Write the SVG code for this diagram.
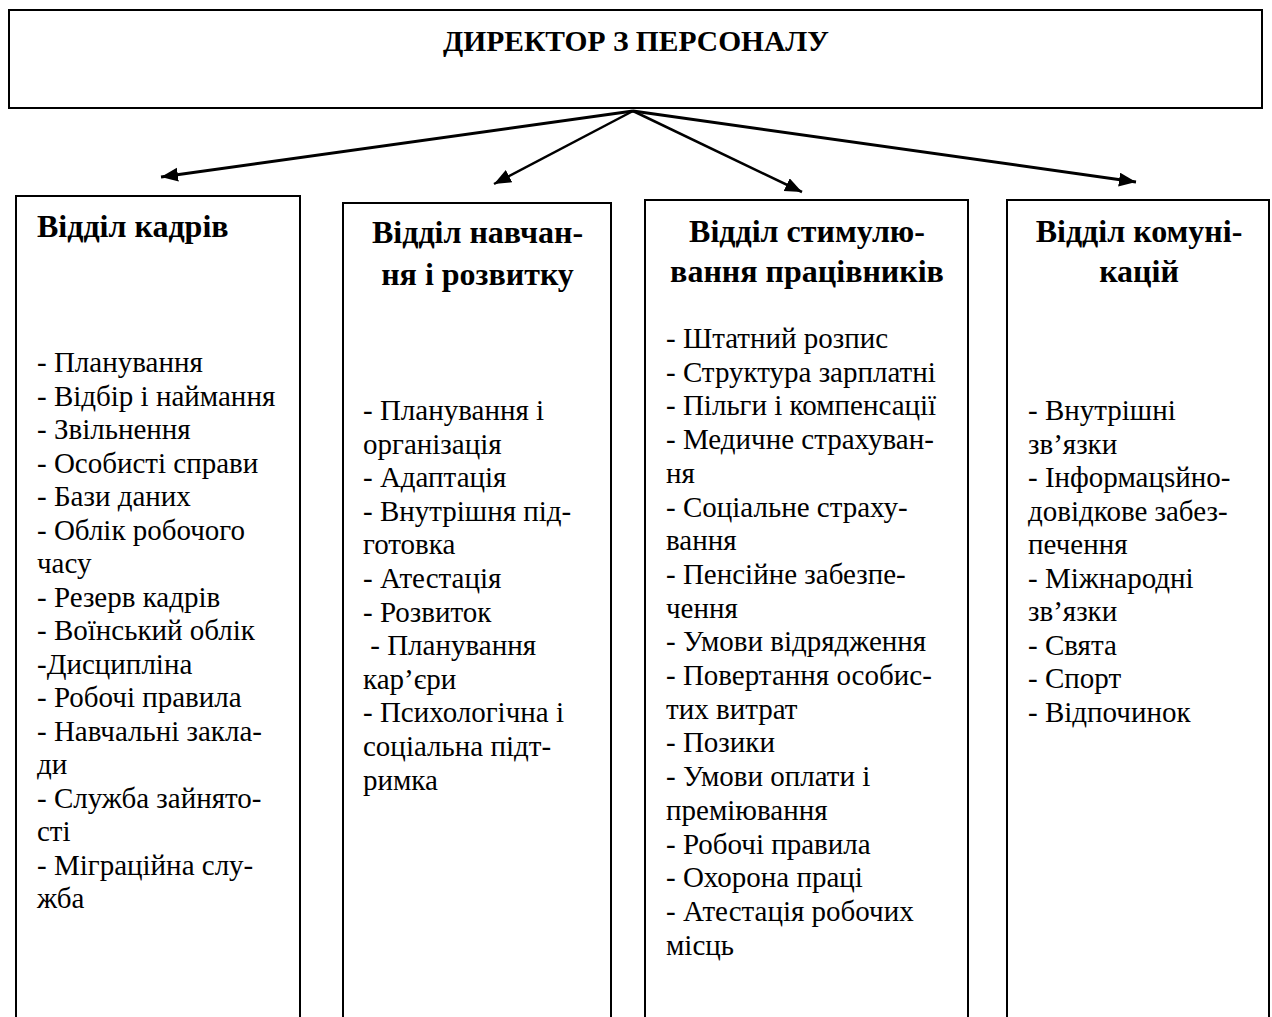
<svg xmlns="http://www.w3.org/2000/svg" width="1272" height="1017" viewBox="0 0 1272 1017">
<defs>
<marker id="ah" markerUnits="userSpaceOnUse" markerWidth="20" markerHeight="16" refX="17" refY="7" orient="auto">
<path d="M0,0 L17,7 L0,14 Z" fill="#000"/>
</marker>
<style>
.box{fill:#fff;stroke:#000;stroke-width:2}
.t{font-family:"Liberation Serif","Times New Roman",serif;fill:#000}
.h{font-size:32px;font-weight:bold}
.l{font-size:29px}
.c{text-anchor:middle}
.con{stroke:#000;fill:none}
</style>
</defs>
<rect width="1272" height="1017" fill="#fff"/>
<g id="director">
<rect class="box" x="9" y="10" width="1253" height="98"/>
<text class="t c" x="636" y="51" font-size="29.5" font-weight="bold">ДИРЕКТОР З ПЕРСОНАЛУ</text>
</g>
<g id="connectors">
<line class="con" x1="633" y1="111" x2="161" y2="177" stroke-width="3" marker-end="url(#ah)"/>
<line class="con" x1="633" y1="111" x2="494" y2="184" stroke-width="2.5" marker-end="url(#ah)"/>
<line class="con" x1="633" y1="111" x2="802" y2="192" stroke-width="2.5" marker-end="url(#ah)"/>
<line class="con" x1="633" y1="111" x2="1136" y2="182" stroke-width="3" marker-end="url(#ah)"/>
</g>
<g id="dept-kadry">
<rect class="box" x="16" y="196" width="284" height="830"/>
<text class="t h" x="37" y="237">Відділ кадрів</text>
<text class="t l" x="37" y="372">
<tspan x="37" dy="0">- Планування</tspan>
<tspan x="37" dy="33.5">- Відбір і наймання</tspan>
<tspan x="37" dy="33.5">- Звільнення</tspan>
<tspan x="37" dy="33.5">- Особисті справи</tspan>
<tspan x="37" dy="33.5">- Бази даних</tspan>
<tspan x="37" dy="33.5">- Облік робочого</tspan>
<tspan x="37" dy="33.5">часу</tspan>
<tspan x="37" dy="33.5">- Резерв кадрів</tspan>
<tspan x="37" dy="33.5">- Воїнський облік</tspan>
<tspan x="37" dy="33.5">-Дисципліна</tspan>
<tspan x="37" dy="33.5">- Робочі правила</tspan>
<tspan x="37" dy="33.5">- Навчальні закла-</tspan>
<tspan x="37" dy="33.5">ди</tspan>
<tspan x="37" dy="33.5">- Служба зайнято-</tspan>
<tspan x="37" dy="33.5">сті</tspan>
<tspan x="37" dy="33.5">- Міграційна слу-</tspan>
<tspan x="37" dy="33.5">жба</tspan>
</text>
</g>
<g id="dept-navchannia">
<rect class="box" x="343" y="203" width="268" height="830"/>
<text class="t h c" x="477.5" y="243">Відділ навчан-</text>
<text class="t h c" x="477.5" y="285">ня і розвитку</text>
<text class="t l" x="363" y="420" xml:space="preserve">
<tspan x="363" dy="0">- Планування і</tspan>
<tspan x="363" dy="33.6">організація</tspan>
<tspan x="363" dy="33.6">- Адаптація</tspan>
<tspan x="363" dy="33.6">- Внутрішня під-</tspan>
<tspan x="363" dy="33.6">готовка</tspan>
<tspan x="363" dy="33.6">- Атестація</tspan>
<tspan x="363" dy="33.6">- Розвиток</tspan>
<tspan x="363" dy="33.6"> - Планування</tspan>
<tspan x="363" dy="33.6">кар’єри</tspan>
<tspan x="363" dy="33.6">- Психологічна і</tspan>
<tspan x="363" dy="33.6">соціальна підт-</tspan>
<tspan x="363" dy="33.6">римка</tspan>
</text>
</g>
<g id="dept-stymuliuvannia">
<rect class="box" x="645" y="200" width="323" height="830"/>
<text class="t h c" x="807" y="242">Відділ стимулю-</text>
<text class="t h c" x="807" y="282">вання працівників</text>
<text class="t l" x="666" y="348">
<tspan x="666" dy="0">- Штатний розпис</tspan>
<tspan x="666" dy="33.7">- Структура зарплатні</tspan>
<tspan x="666" dy="33.7">- Пільги і компенсації</tspan>
<tspan x="666" dy="33.7">- Медичне страхуван-</tspan>
<tspan x="666" dy="33.7">ня</tspan>
<tspan x="666" dy="33.7">- Соціальне страху-</tspan>
<tspan x="666" dy="33.7">вання</tspan>
<tspan x="666" dy="33.7">- Пенсійне забезпе-</tspan>
<tspan x="666" dy="33.7">чення</tspan>
<tspan x="666" dy="33.7">- Умови відрядження</tspan>
<tspan x="666" dy="33.7">- Повертання особис-</tspan>
<tspan x="666" dy="33.7">тих витрат</tspan>
<tspan x="666" dy="33.7">- Позики</tspan>
<tspan x="666" dy="33.7">- Умови оплати і</tspan>
<tspan x="666" dy="33.7">преміювання</tspan>
<tspan x="666" dy="33.7">- Робочі правила</tspan>
<tspan x="666" dy="33.7">- Охорона праці</tspan>
<tspan x="666" dy="33.7">- Атестація робочих</tspan>
<tspan x="666" dy="33.7">місць</tspan>
</text>
</g>
<g id="dept-komunikatsii">
<rect class="box" x="1007" y="200" width="262" height="830"/>
<text class="t h c" x="1139" y="242">Відділ комуні-</text>
<text class="t h c" x="1139" y="282">кацій</text>
<text class="t l" x="1028" y="420">
<tspan x="1028" dy="0">- Внутрішні</tspan>
<tspan x="1028" dy="33.5">зв’язки</tspan>
<tspan x="1028" dy="33.5">- Інформацsйно-</tspan>
<tspan x="1028" dy="33.5">довідкове забез-</tspan>
<tspan x="1028" dy="33.5">печення</tspan>
<tspan x="1028" dy="33.5">- Міжнародні</tspan>
<tspan x="1028" dy="33.5">зв’язки</tspan>
<tspan x="1028" dy="33.5">- Свята</tspan>
<tspan x="1028" dy="33.5">- Спорт</tspan>
<tspan x="1028" dy="33.5">- Відпочинок</tspan>
</text>
</g>
</svg>
